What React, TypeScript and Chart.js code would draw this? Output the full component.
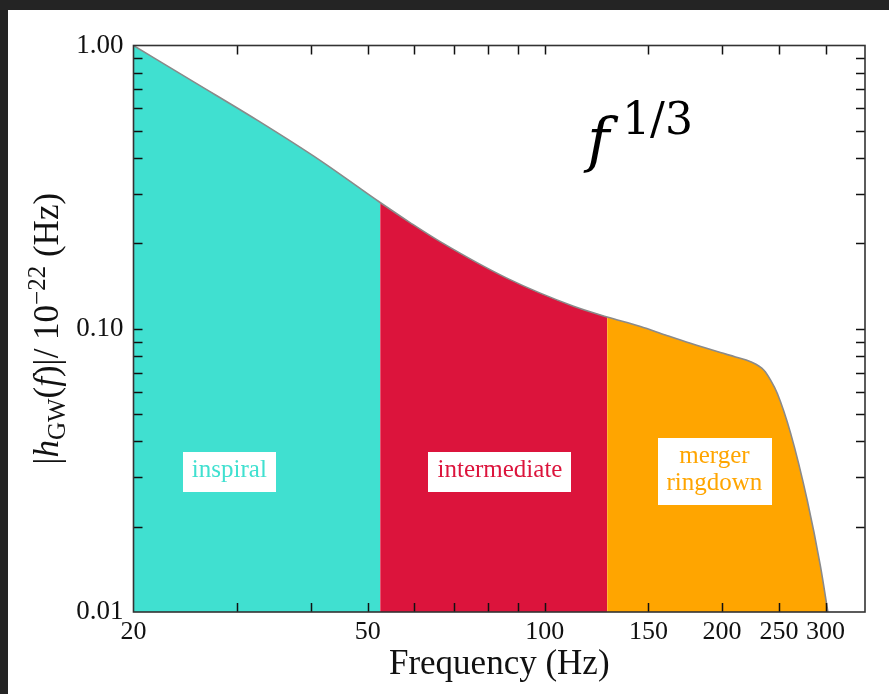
import React, { useEffect, useRef } from "react";
import { Chart, registerables } from "chart.js";

Chart.register(...registerables);

// ---- data ----
const freqHz = [20, 25.4, 32.4, 41.5, 52.5, 59.1, 66.4, 86.2, 111.9, 127.6, 145.4, 160.3, 176.8, 198.8, 210.9, 223.7, 235.7, 241.9, 248.3, 261.6, 279.2, 294.1, 302.7];
const amplitude = [1.0, 0.741, 0.546, 0.393, 0.279, 0.2366, 0.203, 0.1509, 0.1201, 0.1101, 0.1018, 0.095, 0.0888, 0.0824, 0.0795, 0.0765, 0.0714, 0.0659, 0.0592, 0.0428, 0.0248, 0.01445, 0.01];
const phaseEdges = [20, 52.5, 127.6, 302.7];
const phaseNames = ["inspiral", "intermediate", "merger ringdown"];
const phaseColors = ["#40E0D0", "#DC143C", "#FFA500"];
const phaseLabelFreq = [29.1, 83.9, 194.2];
const phaseLabelAmp = [0.0313, 0.0313, 0.0313];
const xRange = [20, 350];
const yRange = [0.01, 1];
const xLabelTicks = [20, 50, 100, 150, 200, 250, 300];
const xMarkTicks = [30, 40, 50, 60, 70, 80, 90, 100, 150, 200, 250, 300];
const yLabelTicks = [0.01, 0.1, 1];
const yMarkTicks = [0.02, 0.03, 0.04, 0.05, 0.06, 0.07, 0.08, 0.09, 0.1, 0.2, 0.3, 0.4, 0.5, 0.6, 0.7, 0.8, 0.9];
const xTitle = "Frequency (Hz)";
const slopeBase = "f";
const slopeExp = "1/3";
const slopeAnchor = { f: 118, amp: 0.39 };

const SERIF = "'Liberation Serif', 'Times New Roman', serif";

const overlayPlugin = {
  id: "overlay",
  afterDatasetsDraw(chart: any) {
    const { ctx, scales } = chart;
    const xs = scales.x;
    const ys = scales.y;
    // phase label boxes
    ctx.save();
    ctx.font = `25px ${SERIF}`;
    ctx.textAlign = "center";
    ctx.textBaseline = "alphabetic";
    phaseNames.forEach((name, i) => {
      const cx = xs.getPixelForValue(phaseLabelFreq[i]);
      const cy = ys.getPixelForValue(phaseLabelAmp[i]);
      const lines = name.split(" ");
      const w = Math.max(...lines.map((l) => ctx.measureText(l).width)) + 18;
      const h = lines.length * 27 + 13;
      ctx.fillStyle = "#ffffff";
      ctx.fillRect(Math.round(cx - w / 2), Math.round(cy - h / 2), Math.round(w), h);
      ctx.fillStyle = phaseColors[i];
      lines.forEach((l, k) => {
        ctx.fillText(l, cx, cy + 5 + (k - (lines.length - 1) / 2) * 27);
      });
    });
    // f^{1/3} annotation
    const ax = xs.getPixelForValue(slopeAnchor.f);
    const ay = ys.getPixelForValue(slopeAnchor.amp);
    ctx.textAlign = "left";
    ctx.fillStyle = "#000";
    ctx.font = `italic 60px 'DejaVu Serif', serif`;
    ctx.fillText(slopeBase, ax, ay);
    ctx.font = `44px 'DejaVu Serif', serif`;
    ctx.fillText(slopeExp, ax + 35, ay - 27);
    ctx.restore();
  },
  afterDraw(chart: any) {
    const { ctx, chartArea, scales } = chart;
    const xs = scales.x;
    const ys = scales.y;
    const { left, right, top, bottom } = chartArea;
    ctx.save();
    // inward ticks
    ctx.strokeStyle = "#111";
    ctx.lineWidth = 1.5;
    const tl = 9;
    ctx.beginPath();
    xMarkTicks.forEach((v) => {
      const px = Math.round(xs.getPixelForValue(v)) + 0.5;
      ctx.moveTo(px, bottom);
      ctx.lineTo(px, bottom - tl);
      ctx.moveTo(px, top);
      ctx.lineTo(px, top + tl);
    });
    yMarkTicks.forEach((v) => {
      const py = Math.round(ys.getPixelForValue(v)) + 0.5;
      ctx.moveTo(left, py);
      ctx.lineTo(left + tl, py);
      ctx.moveTo(right, py);
      ctx.lineTo(right - tl, py);
    });
    ctx.stroke();
    // frame
    ctx.strokeStyle = "#333";
    ctx.lineWidth = 1.6;
    ctx.strokeRect(left, top, right - left, bottom - top);
    // y axis title with sub/superscripts
    const segs: [string, string, number][] = [
      ["|", `35px ${SERIF}`, 0],
      ["h", `italic 35px ${SERIF}`, 0],
      ["GW", `25px ${SERIF}`, 7],
      ["(", `35px ${SERIF}`, 0],
      ["f", `italic 35px ${SERIF}`, 0],
      [")|/ 10", `35px ${SERIF}`, 0],
      ["\u221222", `25px ${SERIF}`, -13],
      [" (Hz)", `35px ${SERIF}`, 0],
    ];
    let total = 0;
    const widths = segs.map(([t, f]) => {
      ctx.font = f;
      const w = ctx.measureText(t).width;
      total += w;
      return w;
    });
    ctx.translate(50, (top + bottom) / 2);
    ctx.rotate(-Math.PI / 2);
    ctx.fillStyle = "#111";
    ctx.textAlign = "left";
    ctx.textBaseline = "alphabetic";
    let x = -total / 2;
    segs.forEach(([t, f, dy], i) => {
      ctx.font = f;
      ctx.fillText(t, x, dy);
      x += widths[i];
    });
    ctx.restore();
  },
};

function buildSegment(i: number) {
  const pts: { x: number; y: number }[] = [];
  freqHz.forEach((f, k) => {
    if (f >= phaseEdges[i] && f <= phaseEdges[i + 1]) pts.push({ x: f, y: amplitude[k] });
  });
  return pts;
}

export default function App() {
  const ref = useRef<HTMLCanvasElement | null>(null);
  useEffect(() => {
    document.body.style.margin = "0";
    const canvas = ref.current;
    if (!canvas) return;
    const curve = freqHz.map((f, k) => ({ x: f, y: amplitude[k] }));
    const datasets: any[] = [
      {
        data: curve,
        borderColor: "#8a8a8a",
        borderWidth: 1.6,
        pointRadius: 0,
        fill: false,
        cubicInterpolationMode: "monotone",
      },
      ...phaseNames.map((_, i) => ({
        data: buildSegment(i),
        backgroundColor: phaseColors[i],
        borderColor: "rgba(0,0,0,0)",
        borderWidth: 0,
        pointRadius: 0,
        fill: "start",
        cubicInterpolationMode: "monotone",
      })),
    ];
    const chart = new Chart(canvas, {
      type: "line",
      data: { datasets },
      options: {
        animation: false,
        responsive: false,
        events: [],
        layout: { padding: { left: 0, top: 35.5, right: 24, bottom: 0 } },
        plugins: { legend: { display: false }, tooltip: { enabled: false } },
        scales: {
          x: {
            type: "logarithmic",
            min: xRange[0],
            max: xRange[1],
            afterBuildTicks: (s: any) => {
              s.ticks = xLabelTicks.map((v) => ({ value: v }));
            },
            afterFit: (s: any) => {
              s.height = 82;
            },
            grid: { display: false, drawTicks: false },
            border: { display: false },
            ticks: {
              autoSkip: false,
              maxRotation: 0,
              minRotation: 0,
              padding: 5,
              color: "#111",
              font: { family: SERIF, size: 26 },
              callback: (v: any) => String(v),
            },
            title: {
              display: true,
              text: xTitle,
              color: "#111",
              font: { family: SERIF, size: 35 },
              padding: { top: 0, bottom: 8 },
            },
          },
          y: {
            type: "logarithmic",
            min: yRange[0],
            max: yRange[1],
            afterBuildTicks: (s: any) => {
              s.ticks = yLabelTicks.map((v) => ({ value: v }));
            },
            afterFit: (s: any) => {
              s.width = 125.5;
            },
            grid: { display: false, drawTicks: false },
            border: { display: false },
            ticks: {
              autoSkip: false,
              padding: 10,
              color: "#111",
              font: { family: SERIF, size: 27 },
              callback: (v: any) => Number(v).toFixed(2),
            },
          },
        },
      },
      plugins: [overlayPlugin],
    } as any);
    return () => chart.destroy();
  }, []);
  return (
    <div style={{ width: 889, height: 694, background: "#242424", position: "relative", overflow: "hidden" }}>
      <div style={{ position: "absolute", left: 8, top: 10, width: 881, height: 684, background: "#ffffff" }}>
        <canvas ref={ref} width={881} height={684} style={{ display: "block" }} />
      </div>
    </div>
  );
}
